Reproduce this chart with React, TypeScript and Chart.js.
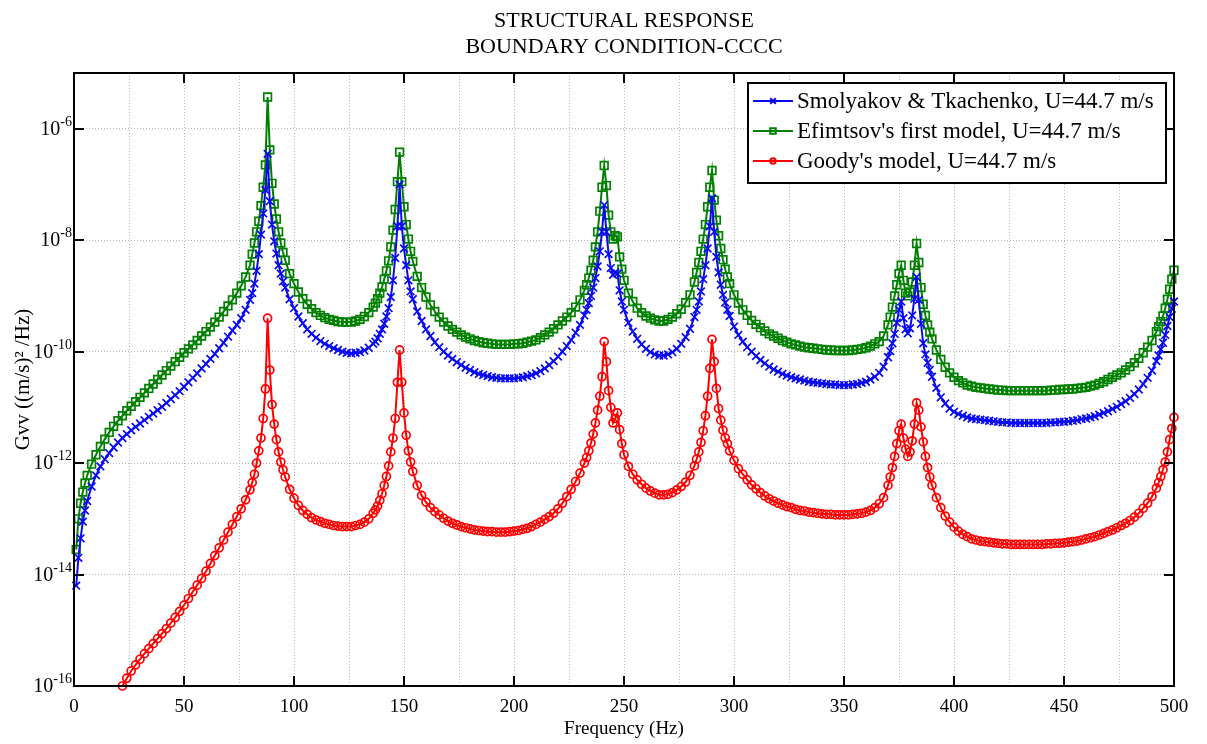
import React, { useEffect, useRef } from "react";
import { Chart, registerables } from "chart.js";

Chart.register(...registerables);

const W = 1207;
const H = 744;

const TITLE_LINES = ["STRUCTURAL RESPONSE", "BOUNDARY CONDITION-CCCC"];
const X_TITLE = "Frequency (Hz)";
const Y_TITLE = "Gvv ((m/s)\u00B2 /Hz)";

const X_MIN = 0;
const X_MAX = 500;
const X_LABEL_TICKS = [0, 50, 100, 150, 200, 250, 300, 350, 400, 450, 500];
const X_GRID_TICKS = [0, 25, 50, 75, 100, 125, 150, 175, 200, 225, 250, 275, 300, 325, 350, 375, 400, 425, 450, 475, 500];
const Y_MIN_EXP = -16;
const Y_MAX_EXP = -5;
const Y_LABEL_EXPS = [-16, -14, -12, -10, -8, -6];

const SERIES_NAMES = [
  "Smolyakov & Tkachenko, U=44.7 m/s",
  "Efimtsov's first model, U=44.7 m/s",
  "Goody's model, U=44.7 m/s",
];
const SERIES_COLORS = ["#0a0af0", "#008000", "#ff0000"];
const SERIES_MARKERS = ["crossRot", "rect", "circle"];

// frequency samples (Hz)
const freqHz = [
  1, 2, 3, 4, 5, 6, 8, 10, 12, 14, 16, 18, 20, 22, 24, 26, 28, 30, 32, 34, 36, 38, 40, 42, 44, 46, 48, 50, 52, 54, 56, 58, 60, 62, 64, 66, 68, 70, 72, 74, 76, 78, 80,
  81, 82, 83, 84, 85, 86, 87, 88, 89, 90, 91, 92, 93, 94, 95, 96, 98, 100, 102, 104, 106, 108, 110, 112, 114, 116, 118, 120, 122, 124, 126, 128, 130, 132, 134, 136,
  137, 138, 139, 140, 141, 142, 143, 144, 145, 146, 147, 148, 149, 150, 151, 152, 153, 154, 156, 158, 160, 162, 164, 166, 168, 170, 172, 174, 176, 178, 180, 182, 184, 186, 188, 190, 192, 194, 196, 198, 200, 202, 204, 206, 208, 210, 212, 214, 216, 218, 220, 222, 224, 226, 228, 230, 232,
  233, 234, 235, 236, 237, 238, 239, 240, 241, 242, 243, 244, 245, 246, 247, 248, 249, 250, 252, 254, 256, 258, 260, 262, 264, 266, 268, 270, 272, 274, 276, 278, 280, 282,
  283, 284, 285, 286, 287, 288, 289, 290, 291, 292, 293, 294, 295, 296, 297, 298, 300, 302, 304, 306, 308, 310, 312, 314, 316, 318, 320, 322, 324, 326, 328, 330, 332, 334, 336, 338, 340, 342, 344, 346, 348, 350, 352, 354, 356, 358, 360, 362, 364, 366, 368, 370,
  371, 372, 373, 374, 375, 376, 377, 378, 379, 380, 381, 382, 383, 384, 385, 386, 387, 388, 389, 390, 392, 394, 396, 398, 400, 402, 404, 406, 408, 410, 412, 414, 416, 418, 420, 422, 424, 426, 428, 430, 432, 434, 436, 438, 440, 442, 444, 446, 448, 450, 452, 454, 456, 458, 460, 462, 464, 466, 468, 470, 472, 474, 476, 478, 480, 482, 484, 486, 488, 490, 492,
  493, 494, 495, 496, 497, 498, 499, 500,
];

// log10 of Gvv for each series
const smolyakovLog10 = [
  -14.2, -13.7, -13.35, -13.05, -12.85, -12.68, -12.42, -12.22, -12.06, -11.93, -11.82, -11.72, -11.63, -11.55, -11.48, -11.41, -11.35, -11.29, -11.23, -11.17, -11.11, -11.05, -10.99, -10.92, -10.85, -10.78, -10.71, -10.63, -10.55, -10.47, -10.39, -10.3, -10.22, -10.13, -10.04, -9.94, -9.84, -9.73, -9.62, -9.52, -9.4, -9.25, -9.07,
  -8.95, -8.78, -8.55, -8.25, -7.9, -7.52, -7.1, -6.45, -7.3, -7.72, -8.02, -8.24, -8.45, -8.6, -8.74, -8.85, -9.06, -9.22, -9.37, -9.49, -9.6, -9.68, -9.75, -9.81, -9.86, -9.9, -9.94, -9.97, -10.0, -10.02, -10.03, -10.02, -10.01, -9.98, -9.93, -9.86,
  -9.82, -9.76, -9.68, -9.6, -9.5, -9.37, -9.22, -9.02, -8.72, -8.32, -7.75, -7.0, -7.75, -8.15, -8.45, -8.72, -8.92, -9.06, -9.28, -9.45, -9.6, -9.72, -9.83, -9.92, -10.0, -10.07, -10.13, -10.19, -10.24, -10.29, -10.33, -10.37, -10.4, -10.42, -10.44, -10.46, -10.47, -10.48, -10.48, -10.48, -10.48, -10.47, -10.46, -10.44, -10.42, -10.39, -10.35, -10.3, -10.24, -10.17, -10.09, -10.0, -9.9, -9.79, -9.66, -9.52, -9.35,
  -9.25, -9.13, -9.0, -8.85, -8.68, -8.47, -8.2, -7.85, -7.37, -7.85, -8.25, -8.5, -8.62, -8.58, -8.6, -8.9, -9.1, -9.25, -9.48, -9.64, -9.77, -9.87, -9.95, -10.01, -10.05, -10.07, -10.07, -10.05, -10.01, -9.95, -9.86, -9.74, -9.59, -9.38,
  -9.25, -9.1, -8.92, -8.7, -8.45, -8.15, -7.75, -7.25, -7.85, -8.3, -8.58, -8.8, -8.98, -9.12, -9.25, -9.36, -9.55, -9.7, -9.82, -9.92, -10.0, -10.08, -10.15, -10.21, -10.27, -10.32, -10.36, -10.4, -10.43, -10.46, -10.48, -10.5, -10.52, -10.54, -10.55, -10.56, -10.57, -10.58, -10.59, -10.59, -10.6, -10.6, -10.6, -10.59, -10.58, -10.56, -10.54, -10.5, -10.45, -10.38, -10.27, -10.1,
  -9.99, -9.85, -9.68, -9.48, -9.25, -9.1, -9.4, -9.6, -9.67, -9.58, -9.35, -9.05, -8.66, -9.07, -9.5, -9.85, -10.05, -10.2, -10.33, -10.45, -10.65, -10.82, -10.93, -11.02, -11.08, -11.12, -11.15, -11.18, -11.2, -11.21, -11.22, -11.23, -11.24, -11.25, -11.26, -11.27, -11.27, -11.28, -11.28, -11.28, -11.28, -11.28, -11.28, -11.28, -11.28, -11.28, -11.27, -11.27, -11.26, -11.26, -11.25, -11.24, -11.23, -11.21, -11.2, -11.18, -11.16, -11.13, -11.1, -11.07, -11.03, -10.99, -10.94, -10.89, -10.83, -10.76, -10.68, -10.58, -10.47, -10.34, -10.17,
  -10.07, -9.96, -9.84, -9.7, -9.54, -9.38, -9.23, -9.1,
];

const efimtsovLog10 = [
  -13.55, -13.0, -12.72, -12.52, -12.36, -12.22, -12.02, -11.85, -11.7, -11.57, -11.45, -11.34, -11.24, -11.15, -11.06, -10.98, -10.9, -10.82, -10.74, -10.66, -10.58, -10.5, -10.42, -10.34, -10.26, -10.18, -10.1, -10.02, -9.95, -9.88, -9.8, -9.72, -9.64, -9.56, -9.47, -9.38, -9.28, -9.18, -9.07, -8.95, -8.82, -8.66, -8.45,
  -8.25, -8.05, -7.85, -7.66, -7.38, -7.05, -6.65, -5.43, -6.38, -6.98, -7.35, -7.62, -7.85, -8.05, -8.22, -8.36, -8.6, -8.78, -8.93, -9.05, -9.15, -9.23, -9.3, -9.35, -9.39, -9.42, -9.44, -9.46, -9.47, -9.47, -9.47, -9.45, -9.42, -9.37, -9.3, -9.2,
  -9.13, -9.05, -8.95, -8.84, -8.7, -8.55, -8.37, -8.12, -7.82, -7.45, -6.95, -6.42, -6.95, -7.4, -7.72, -7.98, -8.2, -8.38, -8.65, -8.85, -9.02, -9.16, -9.28, -9.38, -9.47, -9.54, -9.6, -9.65, -9.7, -9.74, -9.77, -9.8, -9.82, -9.84, -9.85, -9.86, -9.87, -9.87, -9.87, -9.87, -9.86, -9.86, -9.85, -9.83, -9.81, -9.79, -9.75, -9.7, -9.65, -9.59, -9.52, -9.45, -9.38, -9.3, -9.2, -9.07, -8.9,
  -8.8, -8.68, -8.54, -8.36, -8.12, -7.85, -7.48, -7.05, -6.66, -7.02, -7.55, -7.85, -7.98, -7.92, -7.94, -8.3, -8.52, -8.72, -8.95, -9.1, -9.22, -9.3, -9.36, -9.4, -9.43, -9.45, -9.45, -9.42, -9.38, -9.32, -9.24, -9.12, -8.98, -8.75,
  -8.58, -8.4, -8.2, -7.98, -7.72, -7.4, -7.05, -6.75, -7.28, -7.64, -7.92, -8.15, -8.35, -8.52, -8.66, -8.78, -8.98, -9.13, -9.25, -9.35, -9.44, -9.51, -9.57, -9.63, -9.68, -9.72, -9.76, -9.8, -9.83, -9.86, -9.88, -9.9, -9.92, -9.93, -9.94, -9.95, -9.96, -9.97, -9.97, -9.98, -9.98, -9.98, -9.98, -9.97, -9.96, -9.95, -9.93, -9.9, -9.86, -9.82, -9.72, -9.52,
  -9.38, -9.2, -9.0, -8.8, -8.6, -8.45, -8.72, -8.95, -9.0, -8.93, -8.75, -8.45, -8.06, -8.4, -8.85, -9.15, -9.35, -9.52, -9.65, -9.77, -9.97, -10.14, -10.28, -10.38, -10.46, -10.52, -10.56, -10.6, -10.62, -10.64, -10.65, -10.66, -10.67, -10.68, -10.69, -10.69, -10.7, -10.7, -10.7, -10.7, -10.7, -10.7, -10.7, -10.7, -10.7, -10.7, -10.69, -10.69, -10.68, -10.68, -10.67, -10.67, -10.66, -10.65, -10.64, -10.62, -10.6, -10.57, -10.54, -10.5, -10.46, -10.42, -10.38, -10.33, -10.27, -10.2, -10.12, -10.02, -9.92, -9.8, -9.64,
  -9.55, -9.46, -9.36, -9.22, -9.06, -8.88, -8.7, -8.54,
];

const goodyLog10 = [
  null, null, null, null, null, null, null, null, null, null, null, null, null, -16.0, -15.86, -15.73, -15.62, -15.52, -15.42, -15.33, -15.24, -15.15, -15.06, -14.97, -14.87, -14.77, -14.66, -14.55, -14.43, -14.31, -14.19, -14.07, -13.94, -13.8, -13.66, -13.52, -13.38, -13.24, -13.1, -12.96, -12.82, -12.66, -12.48,
  -12.35, -12.2, -12.0, -11.78, -11.55, -11.2, -10.67, -9.4, -10.33, -10.95, -11.3, -11.58, -11.8, -11.98, -12.12, -12.25, -12.47, -12.63, -12.76, -12.85, -12.92, -12.98, -13.02, -13.05, -13.08, -13.1, -13.12, -13.13, -13.14, -13.14, -13.14, -13.12, -13.1, -13.06, -13.0, -12.9,
  -12.84, -12.77, -12.67, -12.55, -12.4, -12.24, -12.05, -11.8, -11.55, -11.2, -10.55, -9.97, -10.55, -11.1, -11.5, -11.78, -11.98, -12.15, -12.4, -12.58, -12.7, -12.8, -12.87, -12.93, -12.99, -13.04, -13.08, -13.11, -13.14, -13.16, -13.18, -13.2, -13.21, -13.22, -13.23, -13.23, -13.24, -13.24, -13.24, -13.23, -13.22, -13.21, -13.19, -13.17, -13.14, -13.1, -13.06, -13.01, -12.96, -12.9, -12.82, -12.72, -12.6, -12.47, -12.33, -12.18, -12.0,
  -11.9, -11.78, -11.64, -11.48, -11.28, -11.05, -10.8, -10.45, -9.82, -10.18, -10.7, -11.0, -11.28, -11.2, -11.1, -11.4, -11.65, -11.85, -12.06, -12.2, -12.3, -12.38, -12.45, -12.5, -12.54, -12.57, -12.57, -12.56, -12.53, -12.48, -12.42, -12.34, -12.22, -12.05,
  -11.93, -11.8, -11.63, -11.42, -11.15, -10.8, -10.3, -9.78, -10.18, -10.66, -11.02, -11.23, -11.41, -11.55, -11.65, -11.78, -11.95, -12.1, -12.2, -12.3, -12.39, -12.46, -12.53, -12.59, -12.64, -12.68, -12.72, -12.75, -12.78, -12.8, -12.83, -12.85, -12.86, -12.88, -12.89, -12.9, -12.91, -12.92, -12.92, -12.93, -12.93, -12.93, -12.93, -12.92, -12.91, -12.9, -12.88, -12.85, -12.8, -12.73, -12.62, -12.4,
  -12.25, -12.08, -11.88, -11.65, -11.42, -11.3, -11.55, -11.75, -11.88, -11.8, -11.6, -11.3, -10.92, -11.05, -11.35, -11.62, -11.88, -12.08, -12.25, -12.4, -12.62, -12.8, -12.95, -13.06, -13.15, -13.22, -13.28, -13.32, -13.36, -13.38, -13.4, -13.41, -13.42, -13.43, -13.44, -13.45, -13.45, -13.46, -13.46, -13.46, -13.46, -13.46, -13.46, -13.46, -13.46, -13.45, -13.45, -13.44, -13.44, -13.43, -13.42, -13.41, -13.4, -13.38, -13.36, -13.34, -13.32, -13.29, -13.26, -13.23, -13.2, -13.16, -13.12, -13.08, -13.03, -12.97, -12.9, -12.81, -12.72, -12.6, -12.45,
  -12.35, -12.24, -12.12, -11.98, -11.8, -11.58, -11.38, -11.18,
];

const SERIES_LOG10 = [smolyakovLog10, efimtsovLog10, goodyLog10];

const lengthProblems = SERIES_LOG10.map((arr, i) =>
  arr.length !== freqHz.length ? `series ${i}: ${arr.length} vs ${freqHz.length}` : ""
).filter((s) => s).join("; ");

const FONT = '"Liberation Serif", "Times New Roman", serif';

function drawMarker(ctx: CanvasRenderingContext2D, style: string, x: number, y: number, r: number) {
  ctx.beginPath();
  if (style === "crossRot") {
    ctx.moveTo(x - r, y - r);
    ctx.lineTo(x + r, y + r);
    ctx.moveTo(x - r, y + r);
    ctx.lineTo(x + r, y - r);
  } else if (style === "rect") {
    ctx.rect(x - r, y - r, 2 * r, 2 * r);
  } else {
    ctx.arc(x, y, r, 0, Math.PI * 2);
  }
  ctx.stroke();
}

const decorPlugin = {
  id: "decor",
  afterDraw(chart: any) {
    const { ctx, chartArea: a, scales } = chart;
    const xs = scales.x;
    const ys = scales.y;
    ctx.save();

    // frame
    ctx.strokeStyle = "#000";
    ctx.lineWidth = 2;
    ctx.setLineDash([]);
    ctx.strokeRect(a.left, a.top, a.right - a.left, a.bottom - a.top);

    // inward tick marks
    const tl = 10;
    ctx.beginPath();
    for (const v of X_LABEL_TICKS) {
      const px = Math.round(xs.getPixelForValue(v));
      ctx.moveTo(px, a.bottom);
      ctx.lineTo(px, a.bottom - tl);
      ctx.moveTo(px, a.top);
      ctx.lineTo(px, a.top + tl);
    }
    for (const e of Y_LABEL_EXPS) {
      const py = Math.round(ys.getPixelForValue(Math.pow(10, e)));
      ctx.moveTo(a.left, py);
      ctx.lineTo(a.left + tl, py);
      ctx.moveTo(a.right, py);
      ctx.lineTo(a.right - tl, py);
    }
    ctx.stroke();

    ctx.fillStyle = "#000";
    // x tick labels
    ctx.font = `19px ${FONT}`;
    ctx.textAlign = "center";
    ctx.textBaseline = "alphabetic";
    for (const v of X_LABEL_TICKS) {
      ctx.fillText(String(v), xs.getPixelForValue(v), a.bottom + 26);
    }

    // y tick labels: 10^e
    for (const e of Y_LABEL_EXPS) {
      const py = ys.getPixelForValue(Math.pow(10, e));
      const sup = String(e);
      ctx.font = `14px ${FONT}`;
      const supW = ctx.measureText(sup).width;
      ctx.font = `20px ${FONT}`;
      const baseW = ctx.measureText("10").width;
      const right = a.left - 2;
      ctx.textAlign = "left";
      ctx.textBaseline = "middle";
      ctx.fillText("10", right - supW - baseW, py + 1);
      ctx.font = `14px ${FONT}`;
      ctx.textBaseline = "alphabetic";
      ctx.fillText(sup, right - supW, py - 3);
    }

    // title
    ctx.font = `22px ${FONT}`;
    ctx.textAlign = "center";
    ctx.textBaseline = "alphabetic";
    const cx = (a.left + a.right) / 2;
    ctx.fillText(TITLE_LINES[0], cx, 27);
    ctx.fillText(TITLE_LINES[1], cx, 53);

    // x title
    ctx.font = `19px ${FONT}`;
    ctx.fillText(X_TITLE, cx, a.bottom + 48);

    // y title
    ctx.save();
    ctx.translate(29, (a.top + a.bottom) / 2);
    ctx.rotate(-Math.PI / 2);
    ctx.font = `21px ${FONT}`;
    ctx.textAlign = "center";
    ctx.fillText(Y_TITLE, 0, 0);
    ctx.restore();

    // legend
    const lx = 748, ly = 83, lw = 418, lh = 100;
    ctx.fillStyle = "#fff";
    ctx.fillRect(lx, ly, lw, lh);
    ctx.strokeStyle = "#000";
    ctx.lineWidth = 2;
    ctx.strokeRect(lx, ly, lw, lh);
    chart.data.datasets.forEach((ds: any, i: number) => {
      const y = ly + 18 + i * 30;
      ctx.strokeStyle = ds.borderColor;
      ctx.lineWidth = 2;
      ctx.beginPath();
      ctx.moveTo(753, y);
      ctx.lineTo(793, y);
      ctx.stroke();
      drawMarker(ctx, SERIES_MARKERS[i], 773, y, 2.8);
      ctx.fillStyle = "#000";
      ctx.font = `23px ${FONT}`;
      ctx.textAlign = "left";
      ctx.textBaseline = "middle";
      ctx.fillText(ds.label, 797, y + 1);
    });

    ctx.restore();
  },
};

export default function App() {
  const ref = useRef<HTMLCanvasElement>(null);

  useEffect(() => {
    const canvas = ref.current;
    if (!canvas) return;
    const radii = [5.4, 5.4, 4.0];
    const datasets = SERIES_LOG10.map((logs, i) => ({
      label: SERIES_NAMES[i],
      data: freqHz
        .map((f, k) => ({ f, v: logs[k] }))
        .filter((p) => p.v !== null && p.v !== undefined)
        .map((p) => ({ x: p.f, y: Math.pow(10, p.v as number) })),
      borderColor: SERIES_COLORS[i],
      backgroundColor: SERIES_COLORS[i],
      borderWidth: 2,
      pointStyle: SERIES_MARKERS[i],
      pointRadius: radii[i],
      pointBorderWidth: 1.7,
      pointBorderColor: SERIES_COLORS[i],
      pointBackgroundColor: "rgba(0,0,0,0)",
      tension: 0,
      clip: false as const,
    }));

    const chart = new Chart(canvas, {
      type: "line",
      data: { datasets },
      options: {
        animation: false,
        responsive: false,
        devicePixelRatio: 1,
        events: [],
        layout: { padding: { left: 74, top: 73, right: W - 1174, bottom: H - 686 } },
        plugins: {
          legend: { display: false },
          title: { display: false },
          tooltip: { enabled: false },
        },
        scales: {
          x: {
            type: "linear",
            min: X_MIN,
            max: X_MAX,
            ticks: { display: false },
            grid: { color: "#b4b4b4", lineWidth: 1, drawTicks: false },
            border: { display: false, dash: [1, 2] },
            afterBuildTicks: (scale: any) => {
              scale.ticks = X_GRID_TICKS.map((v) => ({ value: v }));
            },
            afterFit: (scale: any) => {
              scale.height = 0;
            },
          },
          y: {
            type: "logarithmic",
            min: Math.pow(10, Y_MIN_EXP),
            max: Math.pow(10, Y_MAX_EXP),
            ticks: { display: false },
            grid: { color: "#b4b4b4", lineWidth: 1, drawTicks: false },
            border: { display: false, dash: [1, 2] },
            afterBuildTicks: (scale: any) => {
              scale.ticks = Y_LABEL_EXPS.map((e) => ({ value: Math.pow(10, e) }));
            },
            afterFit: (scale: any) => {
              scale.width = 0;
            },
          },
        },
      },
      plugins: [decorPlugin],
    } as any);
    return () => chart.destroy();
  }, []);

  return (
    <div style={{ position: "fixed", left: 0, top: 0, width: W, height: H, background: "#fff" }}>
      <canvas ref={ref} width={W} height={H} style={{ display: "block", width: W, height: H }} />
      {lengthProblems ? (
        <div style={{ position: "absolute", left: 300, top: 300, color: "red", fontSize: 20 }}>{lengthProblems}</div>
      ) : null}
    </div>
  );
}
